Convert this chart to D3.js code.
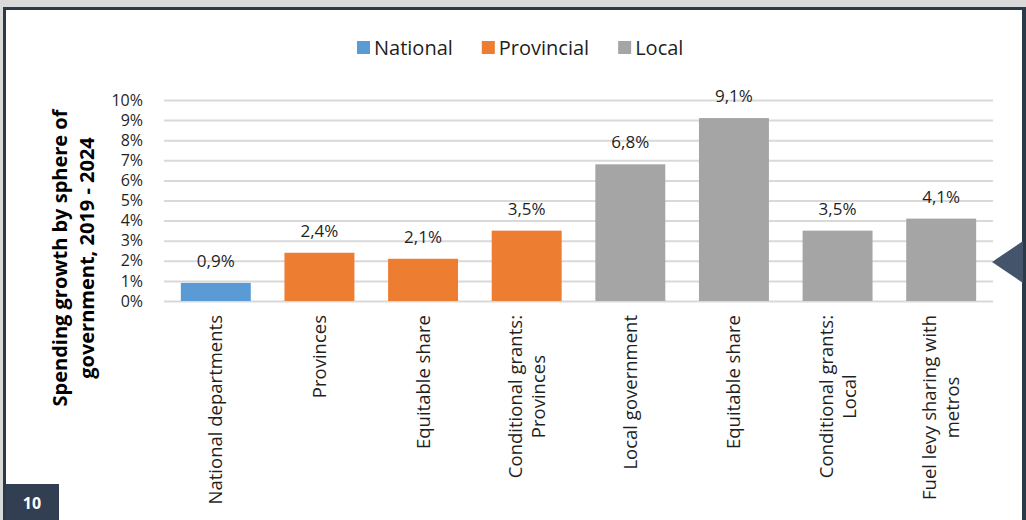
<!DOCTYPE html>
<html>
<head>
<meta charset="utf-8">
<script src="https://cdn.jsdelivr.net/npm/d3@7"></script>
<style>
  html, body { margin: 0; padding: 0; background: #d9d9d9; }
  svg { display: block; }
</style>
</head>
<body>
<svg id="chart" width="1026" height="520"></svg>
<script>
// Spending growth by sphere of government, 2019 - 2024
const categories = [
  ["National departments"],
  ["Provinces"],
  ["Equitable share"],
  ["Conditional grants:", "Provinces"],
  ["Local government"],
  ["Equitable share"],
  ["Conditional grants:", "Local"],
  ["Fuel levy sharing with", "metros"]
];
const spheres = ["National", "Provincial", "Provincial", "Provincial", "Local", "Local", "Local", "Local"];
const values = [0.009, 0.024, 0.021, 0.035, 0.068, 0.091, 0.035, 0.041];
const valueLabels = ["0,9%", "2,4%", "2,1%", "3,5%", "6,8%", "9,1%", "3,5%", "4,1%"];
const yTicks = [0, 0.01, 0.02, 0.03, 0.04, 0.05, 0.06, 0.07, 0.08, 0.09, 0.10];
const legendItems = ["National", "Provincial", "Local"];
const legendColors = ["#5b9bd5", "#ed7d31", "#a5a5a5"];

const FONT = "'Open Sans', 'DejaVu Sans', sans-serif";
const svg = d3.select("#chart");

// slide frame
svg.append("rect").attr("x", 3).attr("y", 7).attr("width", 1030).attr("height", 520)
  .attr("fill", "#2b3a49");
svg.append("rect").attr("x", 6).attr("y", 10).attr("width", 1016).attr("height", 520)
  .attr("fill", "#ffffff");

const plotLeft = 164, plotRight = 993;
const x = d3.scaleBand()
  .domain(d3.range(categories.length))
  .range([plotLeft, plotRight])
  .paddingInner(0.325)
  .paddingOuter(0.1625);
const y = d3.scaleLinear().domain([0, 0.10]).range([301, 100]);
const color = d3.scaleOrdinal().domain(legendItems).range(legendColors);

// gridlines
const grid = svg.append("g")
  .attr("transform", `translate(${plotLeft},0)`)
  .call(d3.axisLeft(y).tickValues(yTicks).tickSize(-(plotRight - plotLeft)).tickFormat(""));
grid.select(".domain").remove();
grid.selectAll(".tick line").attr("stroke", "#d9d9d9").attr("stroke-width", 2);

// y tick labels
const yAxis = svg.append("g")
  .attr("transform", `translate(143,0)`)
  .call(d3.axisLeft(y).tickValues(yTicks).tickSize(0).tickPadding(0)
    .tickFormat(d => Math.round(d * 100) + "%"));
yAxis.select(".domain").remove();
yAxis.selectAll("text")
  .attr("font-family", FONT).attr("font-size", 16).attr("fill", "#1f1f1f");

// bars
svg.append("g").selectAll("rect")
  .data(values)
  .join("rect")
  .attr("x", (d, i) => x(i))
  .attr("width", x.bandwidth())
  .attr("y", d => y(d))
  .attr("height", d => y(0) - y(d))
  .attr("fill", (d, i) => color(spheres[i]));

// value labels
svg.append("g").selectAll("text")
  .data(values)
  .join("text")
  .attr("x", (d, i) => x(i) + x.bandwidth() / 2)
  .attr("y", d => y(d) - 16)
  .attr("text-anchor", "middle")
  .attr("font-family", FONT).attr("font-size", 17).attr("fill", "#1f1f1f")
  .text((d, i) => valueLabels[i]);

// category labels, rotated, block anchored just below the axis
const lineGap = 23;
const catG = svg.append("g");
categories.forEach((lines, i) => {
  const cx = x(i) + x.bandwidth() / 2;
  const g = catG.append("g");
  const texts = lines.map(ln => g.append("text")
    .attr("font-family", FONT).attr("font-size", 18.5).attr("fill", "#1f1f1f")
    .attr("text-anchor", "middle")
    .text(ln));
  const maxW = d3.max(texts, t => t.node().getComputedTextLength());
  const n = lines.length;
  texts.forEach((t, k) => {
    const off = (k - (n - 1) / 2) * lineGap;
    t.attr("transform", `translate(${cx + off},${315 + maxW / 2}) rotate(-90)`)
      .attr("dy", "0.35em");
  });
});

// y axis title
const title = svg.append("text")
  .attr("transform", `translate(74,258) rotate(-90)`)
  .attr("text-anchor", "middle")
  .attr("font-family", FONT).attr("font-size", 20).attr("font-weight", "bold").attr("fill", "#000");
title.append("tspan").attr("x", 0).attr("dy", "-0.35em").text("Spending growth by sphere of");
title.append("tspan").attr("x", 0).attr("dy", "1.35em").text("government, 2019 - 2024");

// legend
const legend = svg.append("g");
let lx = 357;
legendItems.forEach((name, i) => {
  legend.append("rect").attr("x", lx).attr("y", 41).attr("width", 13).attr("height", 13)
    .attr("fill", legendColors[i]);
  const t = legend.append("text").attr("x", lx + 17).attr("y", 55)
    .attr("font-family", FONT).attr("font-size", 20).attr("fill", "#1f1f1f")
    .text(name);
  lx += 17 + t.node().getComputedTextLength() + 29;
});

// navigation marker on right edge
svg.append("path")
  .attr("d", d3.line()([[992, 262], [1023, 241], [1023, 283]]))
  .attr("fill", "#44546a");

// page number
svg.append("rect").attr("x", 6).attr("y", 484).attr("width", 53).attr("height", 40)
  .attr("fill", "#323f53");
svg.append("text").attr("x", 32).attr("y", 509)
  .attr("text-anchor", "middle")
  .attr("font-family", FONT).attr("font-size", 16).attr("font-weight", "bold").attr("fill", "#fff")
  .text("10");
</script>
</body>
</html>
